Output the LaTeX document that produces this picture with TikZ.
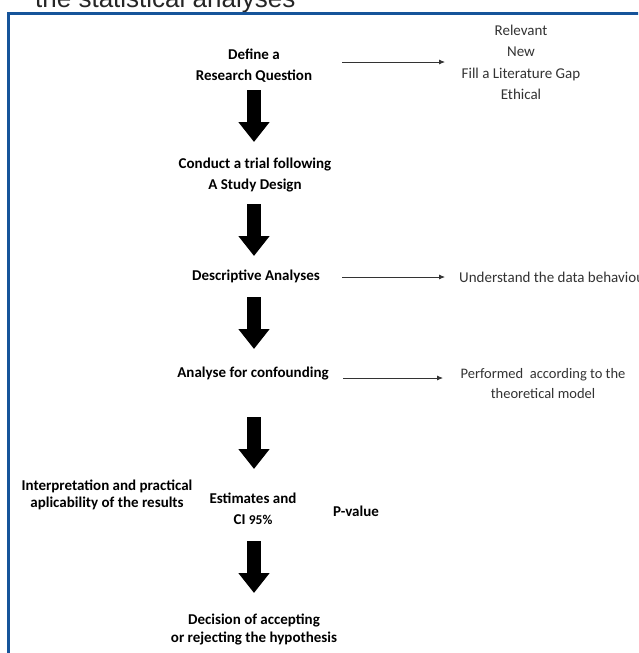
\documentclass[tikz,border=0pt]{standalone}
\usepackage{fontspec}
\setmainfont{Carlito}
\newfontfamily\topfont{Liberation Sans}
\usetikzlibrary{arrows.meta}
\definecolor{frameblue}{RGB}{22,84,154}
\begin{document}
\begin{tikzpicture}[x=1pt,y=-1pt,
  mainbox/.style={font=\bfseries\fontsize{15}{20.5}\selectfont, align=center, inner sep=0pt},
  sidebox/.style={font=\fontsize{15}{21.5}\selectfont, align=center, inner sep=0pt, text=black!80},
  bigarrow/.style={line width=14pt, -{Triangle[width=30pt,length=20pt]}},
  thinarrow/.style={line width=0.8pt, black!80, -{Latex[length=6pt,width=5pt]}}]
\useasboundingbox (0,0) rectangle (638,653);
\clip (0,0) rectangle (638,653);
\fill[white] (0,0) rectangle (638,653);
% cropped caption at the top
\node[anchor=base west, inner sep=0pt, font=\topfont\fontsize{26}{30}\selectfont, text=black!85] (title) at (35,8) {the statistical analyses};
% frame
\draw[frameblue, line width=3pt] (8.5,660) -- (8.5,13.5) -- (645,13.5);
% main column
\node[mainbox] (define) at (254,65.5) {Define a\\Research Question};
\node[mainbox] (conduct) at (255,175) {Conduct a trial following\\A Study Design};
\node[mainbox] (desc) at (256,276) {Descriptive Analyses};
\node[mainbox] (conf) at (253,374) {Analyse for confounding};
\node[mainbox, font=\bfseries\fontsize{15}{17}\selectfont] (interp) at (107,495) {Interpretation and practical\\aplicability of the results};
\node[mainbox] (est) at (253,509) {Estimates and\\CI {\fontsize{13.5}{14}\selectfont 95\%}};
\node[mainbox] (pval) at (356,511) {P-value};
\node[mainbox, font=\bfseries\fontsize{15}{18}\selectfont] (dec) at (254,629) {Decision of accepting\\or rejecting the hypothesis};
% side notes
\node[sidebox] (rel) at (521,62.5) {Relevant\\New\\Fill a Literature Gap\\Ethical};
\node[sidebox, anchor=west] (underst) at (459,277) {Understand the data behaviour};
\node[sidebox, font=\fontsize{14.5}{20}\selectfont] (perf) at (543,384) {Performed\ \ according to the\\theoretical model};
% thick arrows
\coordinate (a1s) at (254,90);  \coordinate (a1e) at (254,142);
\coordinate (a2s) at (254,204); \coordinate (a2e) at (254,256);
\coordinate (a3s) at (254,297); \coordinate (a3e) at (254,349);
\coordinate (a4s) at (254,417); \coordinate (a4e) at (254,469);
\coordinate (a5s) at (254,541); \coordinate (a5e) at (254,593);
\draw[bigarrow] (a1s) -- (a1e);
\draw[bigarrow] (a2s) -- (a2e);
\draw[bigarrow] (a3s) -- (a3e);
\draw[bigarrow] (a4s) -- (a4e);
\draw[bigarrow] (a5s) -- (a5e);
% thin arrows
\coordinate (t1s) at (342,62);  \coordinate (t1e) at (445,62);
\coordinate (t2s) at (342,277); \coordinate (t2e) at (445,277);
\coordinate (t3s) at (343,378); \coordinate (t3e) at (443,378);
\draw[thinarrow] (t1s) -- (t1e);
\draw[thinarrow] (t2s) -- (t2e);
\draw[thinarrow] (t3s) -- (t3e);
\end{tikzpicture}
\end{document}
